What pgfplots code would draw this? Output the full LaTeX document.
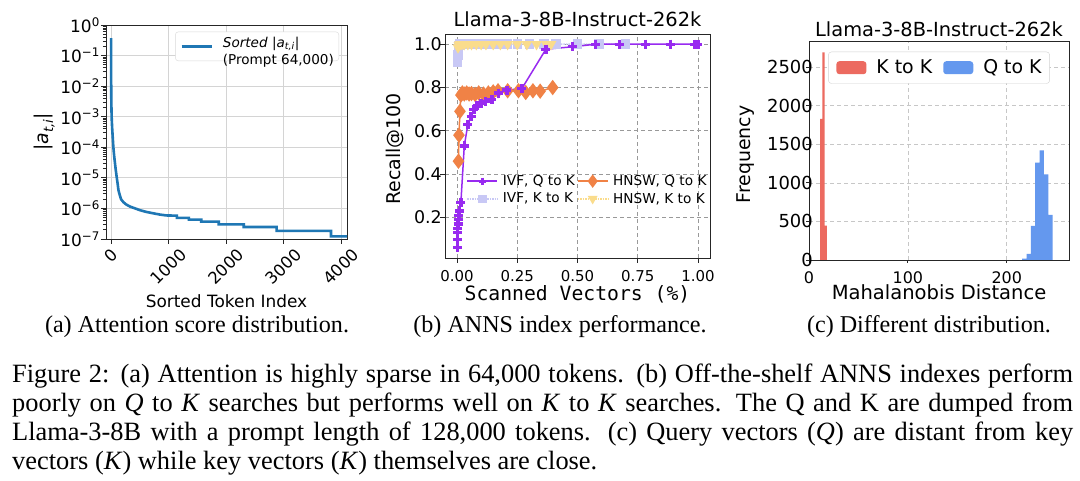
\documentclass[border=0pt]{standalone}
\usepackage{fontspec}
\setmainfont{DejaVu Sans}
\newfontfamily\mono{DejaVu Sans Mono}
\newfontfamily\tms{Liberation Serif}
\usepackage{graphicx}
\usepackage{pgfplots}
\pgfplotsset{compat=1.18}
\definecolor{cblue}{RGB}{31,119,180}
\definecolor{cpur}{RGB}{152,42,240}
\definecolor{corg}{RGB}{240,130,70}
\definecolor{clav}{RGB}{200,200,245}
\definecolor{cyel}{RGB}{250,220,140}
\definecolor{cred}{RGB}{236,106,96}
\definecolor{cblu}{RGB}{100,152,238}
\newcommand{\fs}[1]{\fontsize{#1}{#1}\selectfont}
\pgfplotsset{
  areaimg/.style={legend image code/.code={\fill[##1] (0bp,-6.5bp) rectangle (30bp,6.5bp);}},
  lineimg/.style={legend image code/.code={\draw[mark repeat=2,mark phase=2,##1] plot coordinates {(0bp,0bp) (15bp,0bp) (30bp,0bp)};}},
  common/.style={anchor=south west, scale only axis, tick pos=left, tick align=outside,
    major tick length=5bp, minor tick length=3bp,
    tick style={black!85, line width=0.8bp},
    axis line style={black!85, line width=0.8bp},
    /pgf/number format/assume math mode=true,
    /pgf/number format/1000 sep={}},
}
\begin{document}
\begin{tikzpicture}
\useasboundingbox (0,0) rectangle (1080bp,481bp);
\fill[white] (0,0) rectangle (1080bp,481bp);

% ---------------- (a)
\begin{axis}[common,
  at={(106bp,242bp)}, width=241bp, height=214bp,
  ymode=log, xmin=-88, xmax=4105, ymin=1e-7, ymax=1,
  xtick={0,1000,2000,3000,4000},
  xticklabels={\rotatebox{45}{0},\rotatebox{45}{1000},\rotatebox{45}{2000},\rotatebox{45}{3000},\rotatebox{45}{4000}},
  ytick={1e-7,1e-6,1e-5,1e-4,1e-3,1e-2,1e-1,1},
  yticklabels={10\textsuperscript{−7},10\textsuperscript{−6},10\textsuperscript{−5},10\textsuperscript{−4},10\textsuperscript{−3},10\textsuperscript{−2},10\textsuperscript{−1},10\textsuperscript{0}},
  minor ytick={2e-7,3e-7,4e-7,5e-7,6e-7,7e-7,8e-7,9e-7,2e-6,3e-6,4e-6,5e-6,6e-6,7e-6,8e-6,9e-6,2e-5,3e-5,4e-5,5e-5,6e-5,7e-5,8e-5,9e-5,2e-4,3e-4,4e-4,5e-4,6e-4,7e-4,8e-4,9e-4,2e-3,3e-3,4e-3,5e-3,6e-3,7e-3,8e-3,9e-3,2e-2,3e-2,4e-2,5e-2,6e-2,7e-2,8e-2,9e-2,2e-1,3e-1,4e-1,5e-1,6e-1,7e-1,8e-1,9e-1},
  grid=major, major grid style={black!17, line width=0.8bp},
  xticklabel style={font=\fs{16.5}, anchor=north, inner sep=0pt, yshift=-3bp},
  yticklabel style={font=\fs{17}, anchor=east, inner sep=0pt, xshift=-1bp},
  every axis x label/.style={at={(axis description cs:0.5,-0.322)}, anchor=base, font=\fs{17}},
  every axis y label/.style={at={(axis description cs:-0.255,0.5)}, rotate=90, anchor=center, font=\fs{19}},
  xlabel={Sorted Token Index},
  ylabel={|\textit{a}\textsubscript{\textit{t,i}}|},
  legend style={at={(0.967,0.969)}, anchor=north east, draw=black!15, rounded corners=3bp,
    font=\fontsize{13.6}{17}\selectfont, inner xsep=5bp, inner ysep=3.5bp,
    nodes={inner sep=0pt}, column sep=0pt,
    /tikz/every odd column/.append style={column sep=10bp}},
  legend cell align=left,
]
\addplot[color=cblue, line width=2.6bp, lineimg] coordinates {
(0,0.37) (1,0.06) (2,0.015) (4,4e-3) (8,1.5e-3) (12,8e-4) (20,4e-4) (30,2e-4) (40,1e-4)
(55,5e-5) (70,2.8e-5) (82,1.8e-5) (100,1e-5) (115,6.3e-6) (128,4e-6) (150,2.8e-6) (174,2e-6)
(215,1.6e-6) (262,1.35e-6) (330,1.15e-6) (419,1.0e-6) (500,8.8e-7) (600,7.8e-7) (738,6.9e-7)
(850,6.3e-7) (960,5.9e-7) (1145,5.8e-7) (1145,4.9e-7) (1355,4.9e-7) (1355,4.3e-7)
(1570,4.3e-7) (1570,3.7e-7) (1873,3.7e-7) (1873,3.0e-7) (2309,3.0e-7) (2309,2.46e-7)
(2880,2.46e-7) (2880,1.85e-7) (3827,1.85e-7) (3827,1.22e-7) (4105,1.22e-7)
};
\addlegendentry{\begin{tabular}{@{}l@{}}\textit{Sorted} |\textit{a}\textsubscript{\textit{t,i}}|\\(Prompt 64,000)\end{tabular}}
\end{axis}

% ---------------- (b)
\begin{axis}[common,
  at={(445bp,223bp)}, width=265bp, height=224bp,
  xmin=-0.05, xmax=1.05, ymin=0.013, ymax=1.047,
  xtick={0,0.25,0.5,0.75,1}, ytick={0.2,0.4,0.6,0.8,1.0},
  grid=major, major grid style={black!40, line width=0.7bp, dash pattern=on 4bp off 3bp},
  xticklabel style={font=\fs{15}, anchor=north, inner sep=0pt, yshift=-7.5bp,
    /pgf/number format/fixed, /pgf/number format/fixed zerofill, /pgf/number format/precision=2},
  yticklabel style={font=\fs{17.5}, anchor=east, inner sep=0pt, xshift=2bp,
    /pgf/number format/fixed, /pgf/number format/fixed zerofill, /pgf/number format/precision=1},
  title={Llama-3-8B-Instruct-262k},
  every axis title/.style={at={(axis description cs:0.5,1.0326)}, anchor=base, font=\fs{19.5}},
  every axis x label/.style={at={(axis description cs:0.5,-0.19)}, anchor=base, font=\mono\fs{19.8}},
  every axis y label/.style={at={(axis description cs:-0.187,0.487)}, rotate=90, anchor=center, font=\fs{19}},
  xlabel={Scanned Vectors (\%)},
  ylabel={Recall@100},
  legend columns=2,
  legend style={draw=none, fill=none, at={(0.9875,0.37)}, anchor=north east, inner sep=0pt,
    font=\fs{13.7}, nodes={inner sep=0pt}, column sep=0pt, row sep=6bp,
    /tikz/every odd column/.append style={column sep=4.7bp},
    /tikz/every even column/.append style={column sep=2bp}},
  legend cell align=left,
]
\addplot[forget plot, color=clav, line width=1.5bp, densely dotted, mark=square*, mark size=4bp, mark options={solid}] coordinates {
(0.0015,0.915) (0.003,0.95) (0.005,0.98) (0.008,0.995) (0.012,1.0) (0.02,1.0) (0.035,1.0) (0.05,1.0)
(0.07,1.0) (0.1,1.0) (0.13,1.0) (0.17,1.0) (0.21,1.0) (0.25,1.0) (0.3,1.0) (0.36,1.0) (0.41,1.0)
(0.5,1.0) (0.59,1.0) (0.7,1.0)
};
\addplot[forget plot, color=cyel, line width=1.5bp, densely dotted, mark=triangle*, mark size=4.8bp, mark options={solid, rotate=180}] coordinates {
(0.004,0.985) (0.008,0.995) (0.012,1.0) (0.02,1.0) (0.03,1.0) (0.045,1.0) (0.06,1.0) (0.08,1.0)
(0.1,1.0) (0.12,1.0) (0.15,1.0) (0.18,1.0) (0.21,1.0) (0.25,1.0) (0.29,1.0) (0.33,1.0) (0.37,1.0) (0.39,1.0)
};
\addplot[forget plot, color=corg, line width=1.5bp, mark=diamond*, mark size=6.5bp] coordinates {
(0.006,0.46) (0.008,0.58) (0.012,0.69) (0.016,0.765) (0.022,0.775) (0.03,0.77) (0.04,0.775)
(0.05,0.77) (0.06,0.772) (0.075,0.768) (0.09,0.775) (0.11,0.77) (0.13,0.775) (0.15,0.78)
(0.17,0.785) (0.21,0.785) (0.255,0.785) (0.285,0.777) (0.315,0.785) (0.345,0.783) (0.397,0.80)
};
\addplot[forget plot, color=cpur, line width=1.5bp, mark=+, mark size=4.5bp, mark options={line width=3.3bp}] coordinates {
(0.002,0.062) (0.001,0.10) (0.002,0.13) (0.003,0.15) (0.004,0.17) (0.006,0.19) (0.008,0.21)
(0.010,0.23) (0.016,0.27) (0.030,0.53) (0.045,0.63) (0.058,0.665) (0.07,0.70) (0.083,0.718)
(0.10,0.728) (0.117,0.734) (0.145,0.746) (0.172,0.774) (0.207,0.788) (0.269,0.795) (0.369,0.977)
(0.48,0.988) (0.576,1.0) (0.673,1.0) (0.783,1.0) (0.887,1.0) (0.986,1.0) (1.0,1.0)
};
\addlegendimage{lineimg, color=cpur, line width=1.5bp, mark=+, mark size=3.6bp, mark options={line width=2.8bp}}
\addlegendentry{IVF, Q to K}
\addlegendimage{lineimg, color=corg, line width=1.5bp, mark=diamond*, mark size=5.5bp}
\addlegendentry{HNSW, Q to K}
\addlegendimage{lineimg, color=clav, line width=1.5bp, densely dotted, mark=square*, mark size=3.5bp, mark options={solid}}
\addlegendentry{IVF, K to K}
\addlegendimage{lineimg, color=cyel, line width=1.5bp, densely dotted, mark=triangle*, mark size=4.2bp, mark options={solid, rotate=180}}
\addlegendentry{HNSW, K to K}
\end{axis}

% ---------------- (c)
\begin{axis}[common,
  at={(809bp,221bp)}, width=260bp, height=218.3bp,
  xmin=0, xmax=263, ymin=0, ymax=2830,
  xtick={0,100,200}, ytick={0,500,1000,1500,2000,2500},
  major tick length=3bp,
  ybar,
  grid=major, major grid style={black!22, line width=0.7bp, dash pattern=on 4bp off 3bp},
  xticklabel style={font=\fs{16}, anchor=north, inner sep=0pt, yshift=-8.5bp},
  yticklabel style={font=\fs{18}, anchor=east, inner sep=0pt, xshift=7bp},
  title={Llama-3-8B-Instruct-262k},
  every axis title/.style={at={(axis description cs:0.5,1.0215)}, anchor=base, font=\fs{19.5}},
  every axis x label/.style={at={(axis description cs:0.5,-0.18)}, anchor=base, font=\fs{19.6}},
  every axis y label/.style={at={(axis description cs:-0.244,0.484)}, rotate=90, anchor=center, font=\fs{19}},
  xlabel={Mahalanobis Distance},
  ylabel={Frequency},
  legend columns=2,
  legend style={at={(0.5,0.954)}, anchor=north, draw=black!18, rounded corners=3bp,
    font=\fs{19}, inner xsep=8bp, inner ysep=8bp, nodes={inner sep=0pt}, column sep=0pt,
    /tikz/every odd column/.append style={column sep=10bp},
    /tikz/every even column/.append style={column sep=11bp}},
]
\addplot[fill=cred, draw=none, bar shift=0pt, bar width=2.35, areaimg] coordinates {
(12.3,1830) (14.65,2690) (17.0,445)
};
\addlegendentry{K to K}
\addplot[fill=cblu, draw=none, bar shift=0pt, bar width=4.4, areaimg] coordinates {
(217.8,17) (222.2,78) (226.6,441) (231.0,1262) (235.4,1422) (239.8,1111) (244.2,584)
};
\addlegendentry{Q to K}
\end{axis}

% ---------------- captions
\node[anchor=base, font=\tms\fs{24.2}] at (197bp,148bp) {(a) Attention score distribution.};
\node[anchor=base, font=\tms\fs{24.2}] at (560bp,148bp) {(b) ANNS index performance.};
\node[anchor=base, font=\tms\fs{24.2}] at (929bp,148bp) {(c) Different distribution.};

\node[anchor=base west, inner sep=0pt, font=\tms\fs{26.5}] at (12bp,98bp)
 {\makebox[1061bp][s]{Figure 2: (a) Attention is highly sparse in 64,000 tokens. (b) Off-the-shelf ANNS indexes perform}};
\node[anchor=base west, inner sep=0pt, font=\tms\fs{26.5}] at (12bp,69bp)
 {\makebox[1061bp][s]{poorly on \textit{Q} to \textit{K} searches but performs well on \textit{K} to \textit{K} searches. The Q and K are dumped from}};
\node[anchor=base west, inner sep=0pt, font=\tms\fs{26.5}] at (12bp,40bp)
 {\makebox[1061bp][s]{Llama-3-8B with a prompt length of 128,000 tokens. (c) Query vectors (\textit{Q}) are distant from key}};
\node[anchor=base west, inner sep=0pt, font=\tms\fs{26.5}] at (12bp,12bp)
 {vectors (\textit{K}) while key vectors (\textit{K}) themselves are close.};
\end{tikzpicture}
\end{document}
